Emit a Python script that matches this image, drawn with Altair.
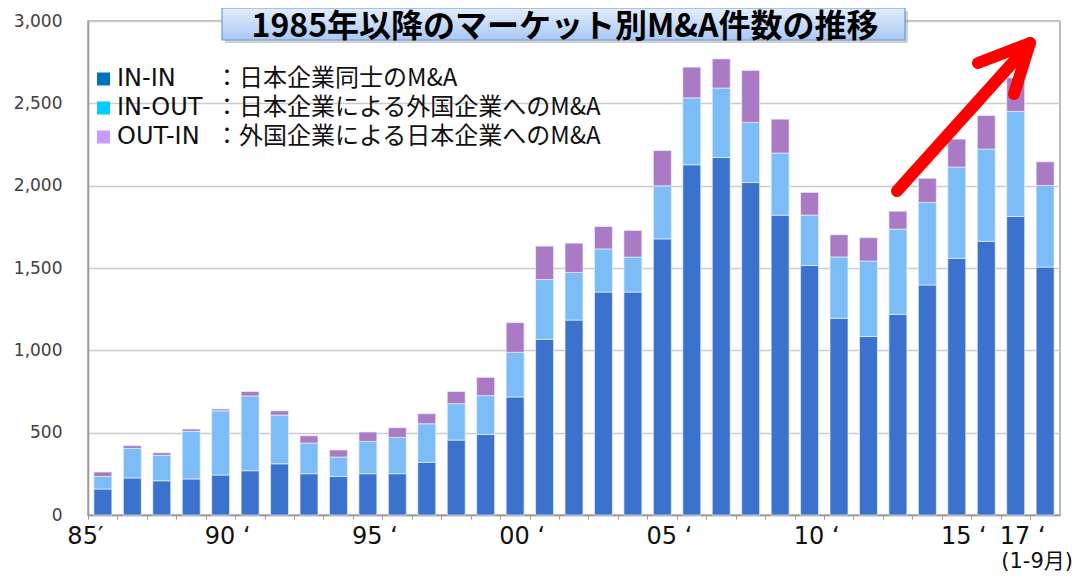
import altair as alt
import pandas as pd

# ---- data ----
years = ["85", "86", "87", "88", "89", "90", "91", "92", "93", "94", "95",
         "96", "97", "98", "99", "00", "01", "02", "03", "04", "05", "06",
         "07", "08", "09", "10", "11", "12", "13", "14", "15", "16", "17"]
in_in = [158, 225, 208, 219, 243, 269, 311, 251, 234, 251, 251,
         320, 455, 489, 717, 1067, 1184, 1354, 1354, 1677, 2127, 2171,
         2019, 1821, 1515, 1195, 1084, 1219, 1397, 1559, 1662, 1813, 1506]
in_out = [76, 179, 154, 289, 390, 454, 296, 186, 118, 196, 220,
          234, 221, 236, 271, 363, 289, 262, 212, 322, 406, 422,
          365, 377, 306, 372, 458, 517, 501, 554, 560, 638, 495]
out_in = [27, 17, 16, 14, 11, 27, 26, 44, 43, 57, 59,
          61, 74, 111, 180, 203, 178, 136, 162, 214, 187, 177,
          316, 206, 138, 135, 142, 109, 147, 170, 204, 204, 144]

series_names = ["IN-IN", "IN-OUT", "OUT-IN"]
series_desc = ["：日本企業同士のM&A",
               "：日本企業による外国企業へのM&A",
               "：外国企業による日本企業へのM&A"]
bar_colors = ["#3A72CE", "#7CBDF7", "#AA7AC4"]
legend_colors = ["#0070C0", "#00CCFF", "#CC99FF"]
y_ticks = [0, 500, 1000, 1500, 2000, 2500, 3000]
x_tick_labels = {"85": "85′", "90": "90 ‘", "95": "95 ‘", "00": "00 ‘",
                 "05": "05 ‘", "10": "10 ‘", "15": "15 ‘", "17": "17 ‘"}
title_text = "1985年以降のマーケット別M&A件数の推移"
note_text = "(1-9月)"

# ---- table ----
rows = []
for s_idx, (name, vals) in enumerate(zip(series_names, [in_in, in_out, out_in])):
    for y, v in zip(years, vals):
        rows.append({"year": y, "series": name, "value": v, "order": s_idx})
df = pd.DataFrame(rows)

label_expr = ""
for k, v in x_tick_labels.items():
    label_expr += f"datum.value == '{k}' ? '{v}' : "
label_expr += "''"

W, H = 972, 494
CJK = "Noto Sans CJK JP"

bars = alt.Chart(df).mark_bar(stroke="#EAF2FF", strokeWidth=0.7).encode(
    x=alt.X("year:N", sort=years,
            scale=alt.Scale(paddingInner=0.39, paddingOuter=0.2),
            axis=alt.Axis(title=None, labelExpr=label_expr, labelAngle=0,
                          labelAlign="right", labelBaseline="top",
                          labelFont="DejaVu Sans", labelFontSize=24,
                          labelColor="#111111", labelPadding=5,
                          tickSize=4, tickColor="#999999", tickWidth=1,
                          domainColor="#999999", domainWidth=1.5,
                          bandPosition=0, tickOffset=-6, labelOffset=6,
                          labelOverlap=False, labelFlush=False)),
    y=alt.Y("value:Q", stack="zero",
            scale=alt.Scale(domain=[0, 3000], nice=False),
            axis=alt.Axis(title=None, values=y_ticks, format=",.0f",
                          labelFont="DejaVu Sans", labelFontSize=17,
                          labelColor="#404040", labelPadding=26,
                          tickSize=0, domainColor="#999999", domainWidth=1.5,
                          gridColor="#CCCCCC", gridWidth=1.5)),
    color=alt.Color("series:N", scale=alt.Scale(domain=series_names, range=bar_colors),
                    legend=None),
    order=alt.Order("order:Q", sort="ascending"),
)

one = pd.DataFrame({"d": [0]})
layers = [bars]

# custom legend
for i in range(3):
    ly = 58 + 29 * i
    layers.append(alt.Chart(one).mark_square(size=169, color=legend_colors[i], opacity=1)
                  .encode(x=alt.value(15.5), y=alt.value(ly)))
    layers.append(alt.Chart(one).mark_text(text=series_names[i], align="left", baseline="middle",
                                           font="DejaVu Sans", fontSize=24, color="#111111")
                  .encode(x=alt.value(29), y=alt.value(ly)))
    layers.append(alt.Chart(one).mark_text(text=series_desc[i], align="left", baseline="middle",
                                           font=CJK, fontSize=24, color="#111111")
                  .encode(x=alt.value(127), y=alt.value(ly)))

# title box
layers.append(alt.Chart(one).mark_rect(color="#7F7F7F", opacity=0.35)
              .encode(x=alt.value(137), x2=alt.value(820), y=alt.value(-10), y2=alt.value(22)))
layers.append(alt.Chart(one).mark_rect(
    color=alt.Gradient(gradient="linear",
                       stops=[alt.GradientStop(color="#E4EEFC", offset=0),
                              alt.GradientStop(color="#A9C8F2", offset=1)],
                       x1=0, x2=0, y1=0, y2=1),
    stroke="#6F98D4", strokeWidth=1.2)
    .encode(x=alt.value(134), x2=alt.value(817), y=alt.value(-13), y2=alt.value(19)))
layers.append(alt.Chart(one).mark_text(text=title_text, align="center", baseline="middle",
                                       font="Noto Sans CJK JP", fontWeight="bold",
                                       fontSize=32, color="#000000")
              .encode(x=alt.value(477), y=alt.value(6)))

# red arrow
arrow_segments = [((809, 170), (937, 28)), ((942, 22), (890, 42)), ((942, 22), (926, 73))]
for (ax1, ay1), (ax2, ay2) in arrow_segments:
    layers.append(alt.Chart(one).mark_rule(color="#FF0000", strokeWidth=12, strokeCap="round")
                  .encode(x=alt.value(ax1), y=alt.value(ay1), x2=alt.value(ax2), y2=alt.value(ay2)))

# note under last label
layers.append(alt.Chart(one).mark_text(text=note_text, align="right", baseline="middle",
                                       font="DejaVu Sans, Noto Sans CJK JP", fontSize=21,
                                       color="#111111")
              .encode(x=alt.value(985), y=alt.value(541)))

chart = alt.layer(*layers).properties(
    width=W, height=H,
    padding={"left": 80, "top": 13, "right": 14, "bottom": 62},
    autosize=alt.AutoSizeParams(type="none"),
    background="white",
).configure_view(stroke="#A6A6A6", strokeWidth=1.5)

chart.save("out.html", embed_options={"renderer": "svg", "actions": False})
